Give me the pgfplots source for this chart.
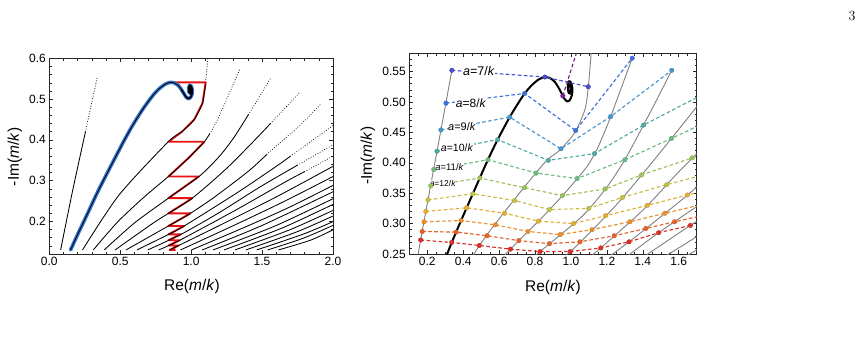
\documentclass[border=0pt]{standalone}
\usepackage{pgfplots}
\pgfplotsset{compat=1.18}
\usepackage{pgfplotstable}
\usepackage{fontspec}
\newfontfamily\arial{Liberation Sans}

% colours of the a = n/k families (a = 6 ... 17)
\definecolor{rcsix}{RGB}{122,31,143}
\definecolor{rcseven}{RGB}{75,79,208}
\definecolor{rceight}{RGB}{63,114,220}
\definecolor{rcnine}{RGB}{74,150,204}
\definecolor{rcten}{RGB}{82,170,160}
\definecolor{rceleven}{RGB}{110,186,128}
\definecolor{rctwelve}{RGB}{157,194,90}
\definecolor{rcthirteen}{RGB}{197,192,68}
\definecolor{rcfourteen}{RGB}{226,175,53}
\definecolor{rcfifteen}{RGB}{233,143,45}
\definecolor{rcsixteen}{RGB}{229,99,42}
\definecolor{rcseventeen}{RGB}{217,48,42}
\definecolor{trajblue}{RGB}{52,116,204}
\definecolor{stair}{RGB}{232,18,18}

% ---------- mode lines (lower part solid, upper part sparse) ----------
\pgfplotstableread{
x y
0.080 0.130
0.163 0.273
0.255 0.420
}\LZeroLo
\pgfplotstableread{
x y
0.255 0.420
0.337 0.552
}\LZeroHi
\pgfplotstableread{
x y
0.150 0.130
0.200 0.168
0.260 0.212
0.335 0.268
0.400 0.313
0.470 0.360
0.530 0.400
0.590 0.437
0.655 0.473
0.700 0.495
0.740 0.513
0.780 0.527
0.820 0.537
0.855 0.541
0.885 0.539
0.910 0.533
0.930 0.524
0.948 0.514
0.962 0.506
0.978 0.501
0.993 0.503
1.005 0.511
1.008 0.522
1.000 0.532
0.990 0.534
0.983 0.527
0.985 0.517
0.993 0.514
0.998 0.521
0.994 0.527
0.989 0.524
}\Traj
\pgfplotstableread{
x y
0.930 0.524
0.948 0.514
0.962 0.506
0.978 0.501
0.993 0.503
1.005 0.511
1.008 0.522
1.000 0.532
0.990 0.534
0.983 0.527
0.985 0.517
0.993 0.514
0.998 0.521
0.994 0.527
0.989 0.524
}\TrajLoop
\pgfplotstableread{
x y
0.234 0.130
0.490 0.264
0.835 0.394
0.935 0.420
1.022 0.450
1.080 0.490
1.100 0.535
}\LTwoLo
\pgfplotstableread{
x y
1.100 0.535
1.118 0.600
1.125 0.630
}\LTwoHi
\pgfplotstableread{
x y
0.310 0.130
0.480 0.198
0.663 0.258
0.846 0.312
0.980 0.355
1.090 0.394
1.131 0.415
}\LThreeLo
\pgfplotstableread{
x y
1.131 0.415
1.150 0.425
1.207 0.465
1.270 0.515
1.341 0.572
}\LThreeHi
\pgfplotstableread{
x y
0.387 0.130
0.600 0.196
0.828 0.254
1.062 0.312
1.200 0.360
1.300 0.405
1.404 0.462
}\LFourLo
\pgfplotstableread{
x y
1.404 0.462
1.480 0.505
1.561 0.552
}\LFourHi
\pgfplotstableread{
x y
0.464 0.130
0.750 0.200
1.000 0.255
1.250 0.330
1.450 0.400
1.559 0.440
}\LFiveLo
\pgfplotstableread{
x y
1.559 0.440
1.600 0.455
1.770 0.518
}\LFiveHi
\pgfplotstableread{
x y
0.541 0.130
0.846 0.190
0.987 0.218
1.158 0.258
1.400 0.322
1.533 0.364
}\LSixLo
\pgfplotstableread{
x y
1.533 0.364
1.600 0.385
1.780 0.440
1.920 0.490
}\LSixHi
\pgfplotstableread{
x y
0.618 0.130
0.846 0.169
0.957 0.190
1.323 0.270
1.600 0.335
1.700 0.360
}\LSevenLo
\pgfplotstableread{
x y
1.700 0.360
1.800 0.385
2.000 0.435
2.050 0.448
}\LSevenHi
\pgfplotstableread{
x y
0.694 0.130
0.933 0.169
1.200 0.222
1.488 0.285
1.750 0.338
}\LEightLo
\pgfplotstableread{
x y
1.750 0.338
2.000 0.388
2.050 0.398
}\LEightHi
\pgfplotstableread{
x y
0.771 0.130
0.910 0.152
1.300 0.225
1.665 0.297
1.800 0.322
}\LNineLo
\pgfplotstableread{
x y
1.800 0.322
2.000 0.360
2.050 0.370
}\LNineHi
\pgfplotstableread{
x y
0.848 0.130
1.200 0.190
1.600 0.260
2.000 0.335
2.050 0.345
}\LTen
\pgfplotstableread{
x y
0.925 0.130
1.300 0.190
1.650 0.248
2.000 0.310
2.050 0.320
}\LEleven
\pgfplotstableread{
x y
1.002 0.130
1.400 0.189
1.700 0.236
2.050 0.297
}\LTwelve
\pgfplotstableread{
x y
1.078 0.130
1.500 0.190
2.050 0.281
}\LThirteen
\pgfplotstableread{
x y
1.155 0.130
1.600 0.190
2.050 0.264
}\LFourteen
\pgfplotstableread{
x y
1.232 0.130
1.650 0.185
2.050 0.250
}\LFifteen
\pgfplotstableread{
x y
1.309 0.130
1.700 0.180
2.050 0.235
}\LSixteen
\pgfplotstableread{
x y
1.386 0.130
1.750 0.175
2.050 0.221
}\LSeventeen
\pgfplotstableread{
x y
1.462 0.130
1.800 0.170
2.050 0.207
}\LEighteen
\pgfplotstableread{
x y
1.540 0.130
1.800 0.160
2.050 0.198
}\LNineteen
\pgfplotstableread{
x y
1.616 0.130
1.850 0.155
2.050 0.188
}\LTwenty

% ---------- staircase between neighbouring mode lines ----------
\pgfplotstableread{
x y
0.855 0.541
1.102 0.541
1.100 0.535
1.080 0.490
1.022 0.450
0.935 0.420
0.840 0.3953
1.0925 0.3953
1.090 0.394
0.980 0.355
0.846 0.312
0.840 0.3102
1.0547 0.3102
0.840 0.2570
1.0067 0.2570
1.000 0.255
0.840 0.2198
0.9947 0.2198
0.987 0.218
0.846 0.190
0.840 0.1888
0.9507 0.1888
0.846 0.169
0.840 0.168
0.9268 0.168
0.840 0.1538
0.9196 0.1538
0.910 0.152
0.840 0.1409
0.912 0.1409
0.848 0.130
0.890 0.130
}\Stair

% ---------- points of constant a = n/k ----------
\pgfplotstableread{
x y
0.337 0.552
0.855 0.541
1.096 0.525
}\RowSeven
\pgfplotstableread{
x y
0.304 0.498
0.742 0.514
1.026 0.453
1.341 0.572
}\RowEight
\pgfplotstableread{
x y
0.276 0.454
0.659 0.475
0.944 0.423
1.221 0.476
1.561 0.552
}\RowNine
\pgfplotstableread{
x y
0.254 0.419
0.592 0.438
0.874 0.404
1.131 0.415
1.404 0.462
1.770 0.518
}\RowTen
\pgfplotstableread{
x y
0.236 0.389
0.538 0.405
0.806 0.383
1.034 0.374
1.300 0.405
1.559 0.440
1.920 0.490
}\RowEleven
\pgfplotstableread{
x y
0.219 0.362
0.493 0.375
0.742 0.359
0.952 0.346
1.191 0.357
1.393 0.380
1.675 0.408
2.050 0.448
}\RowTwelve
\pgfplotstableread{
x y
0.204 0.339
0.454 0.349
0.686 0.338
0.880 0.323
1.099 0.325
1.287 0.343
1.533 0.364
1.800 0.385
}\RowThirteen
\pgfplotstableread{
x y
0.192 0.320
0.419 0.326
0.631 0.317
0.819 0.304
1.014 0.300
1.193 0.313
1.425 0.330
1.648 0.347
1.875 0.363
}\RowFourteen
\pgfplotstableread{
x y
0.182 0.303
0.388 0.305
0.580 0.298
0.761 0.287
0.941 0.282
1.117 0.290
1.328 0.303
1.523 0.317
1.711 0.330
}\RowFifteen
\pgfplotstableread{
x y
0.172 0.287
0.361 0.286
0.533 0.280
0.710 0.272
0.880 0.267
1.050 0.270
1.241 0.280
1.417 0.292
1.577 0.303
1.762 0.315
}\RowSixteen
\pgfplotstableread{
x y
0.163 0.273
0.336 0.269
0.490 0.264
0.663 0.258
0.828 0.254
0.996 0.254
1.166 0.260
1.323 0.270
1.488 0.285
1.665 0.297
}\RowSeventeen
\pgfplotstableread{
x y
0.955 0.510
1.035 0.585
1.050 0.600
}\RowSix

\pgfplotsset{
  framestyle/.style={
    scale only axis, clip=true,
    axis line style={line width=0.6pt, black!85},
    tick style={black!85, line width=0.5pt},
    major tick length=4pt, minor tick length=2.2pt,
    tick align=inside, tick pos=both,
    ticklabel style={font=\arial\fontsize{12}{12}\selectfont},
    label style={font=\arial\fontsize{15.5}{15.5}\selectfont},
  },
  solidline/.style={black, line width=0.85pt, line join=round, smooth, tension=0.45},
  sparseline/.style={black, line width=1.05pt, line cap=round, dash pattern=on 0pt off 2.6pt, smooth, tension=0.45},
  greyline/.style={black!50, line width=0.9pt, line join=round, smooth, tension=0.45},
  arow/.style={#1, line width=1.15pt, dash pattern=on 3.6pt off 2.4pt,
    mark=*, mark size=2.3pt, mark options={solid, fill=#1, draw=#1!85!black, line width=0.3pt}},
}

\begin{document}
\begin{tikzpicture}
\path[use as bounding box] (0pt,0pt) rectangle (863pt,-350pt);
\node[font=\fontsize{14}{14}\selectfont] at (852pt,-16pt) {3};

% ===================== left panel =====================
\begin{axis}[framestyle,
  at={(49.3pt,-254pt)}, anchor=south west,
  width=283.7pt, height=195.7pt,
  xmin=0, xmax=2, ymin=0.12, ymax=0.6,
  xtick={0,0.5,1,1.5,2}, xticklabels={0.0,0.5,1.0,1.5,2.0},
  minor xtick={0.1,0.2,0.3,0.4,0.6,0.7,0.8,0.9,1.1,1.2,1.3,1.4,1.6,1.7,1.8,1.9},
  ytick={0.2,0.3,0.4,0.5,0.6}, yticklabels={0.2,0.3,0.4,0.5,0.6},
  minor ytick={0.14,0.16,0.18,0.22,0.24,0.26,0.28,0.32,0.34,0.36,0.38,0.42,0.44,0.46,0.48,0.52,0.54,0.56,0.58},
  xlabel={Re(\textit{m}/\textit{k})}, ylabel={-Im(\textit{m}/\textit{k})},
  xlabel style={at={(axis description cs:0.503,-0.167)}, anchor=center},
  ylabel style={at={(axis description cs:-0.121,0.496)}, anchor=center},
]
\addplot[stair, line width=1.9pt, line join=round] table {\Stair};
\addplot[solidline] table {\LZeroLo};
\addplot[sparseline] table {\LZeroHi};
\addplot[solidline] table {\LTwoLo};
\addplot[sparseline] table {\LTwoHi};
\addplot[solidline] table {\LThreeLo};
\addplot[sparseline] table {\LThreeHi};
\addplot[solidline] table {\LFourLo};
\addplot[sparseline] table {\LFourHi};
\addplot[solidline] table {\LFiveLo};
\addplot[sparseline] table {\LFiveHi};
\addplot[solidline] table {\LSixLo};
\addplot[sparseline] table {\LSixHi};
\addplot[solidline] table {\LSevenLo};
\addplot[sparseline] table {\LSevenHi};
\addplot[solidline] table {\LEightLo};
\addplot[sparseline] table {\LEightHi};
\addplot[solidline] table {\LNineLo};
\addplot[sparseline] table {\LNineHi};
\addplot[solidline] table {\LTen};
\addplot[solidline] table {\LEleven};
\addplot[solidline] table {\LTwelve};
\addplot[solidline] table {\LThirteen};
\addplot[solidline] table {\LFourteen};
\addplot[solidline] table {\LFifteen};
\addplot[solidline] table {\LSixteen};
\addplot[solidline] table {\LSeventeen};
\addplot[solidline] table {\LEighteen};
\addplot[solidline] table {\LNineteen};
\addplot[solidline] table {\LTwenty};
\addplot[trajblue, line width=3.6pt, line cap=round, line join=round, smooth] table {\Traj};
\addplot[black, line width=0.8pt, smooth] table {\Traj};
\addplot[black, line width=1.5pt, smooth] table {\TrajLoop};
\end{axis}

% ===================== right panel =====================
\begin{axis}[framestyle,
  at={(409.3pt,-254pt)}, anchor=south west,
  width=287.4pt, height=200.7pt,
  xmin=0.1, xmax=1.7, ymin=0.25, ymax=0.58,
  xtick={0.2,0.4,0.6,0.8,1.0,1.2,1.4,1.6},
  xticklabels={0.2,0.4,0.6,0.8,1.0,1.2,1.4,1.6},
  minor xtick={0.15,0.25,0.3,0.35,0.45,0.5,0.55,0.65,0.7,0.75,0.85,0.9,0.95,1.05,1.1,1.15,1.25,1.3,1.35,1.45,1.5,1.55,1.65},
  ytick={0.25,0.3,0.35,0.4,0.45,0.5,0.55},
  yticklabels={0.25,0.30,0.35,0.40,0.45,0.50,0.55},
  minor ytick={0.26,0.27,0.28,0.29,0.31,0.32,0.33,0.34,0.36,0.37,0.38,0.39,0.41,0.42,0.43,0.44,0.46,0.47,0.48,0.49,0.51,0.52,0.53,0.54,0.56,0.57},
  xlabel={Re(\textit{m}/\textit{k})}, ylabel={-Im(\textit{m}/\textit{k})},
  xlabel style={at={(axis description cs:0.5,-0.169)}, anchor=center},
  ylabel style={at={(axis description cs:-0.144,0.49)}, anchor=center},
]
\addplot[greyline] table {\LZeroLo};
\addplot[greyline] table {\LZeroHi};
\addplot[greyline] table {\LTwoLo};
\addplot[greyline] table {\LTwoHi};
\addplot[greyline] table {\LThreeLo};
\addplot[greyline] table {\LThreeHi};
\addplot[greyline] table {\LFourLo};
\addplot[greyline] table {\LFourHi};
\addplot[greyline] table {\LFiveLo};
\addplot[greyline] table {\LFiveHi};
\addplot[greyline] table {\LSixLo};
\addplot[greyline] table {\LSixHi};
\addplot[greyline] table {\LSevenLo};
\addplot[greyline] table {\LSevenHi};
\addplot[greyline] table {\LEightLo};
\addplot[greyline] table {\LEightHi};
\addplot[greyline] table {\LNineLo};
\addplot[greyline] table {\LNineHi};
\addplot[greyline] table {\LTen};
\addplot[greyline] table {\LEleven};
\addplot[black, line width=2pt, smooth] table {\Traj};
\addplot[arow=rcseventeen] table {\RowSeventeen};
\addplot[arow=rcsixteen] table {\RowSixteen};
\addplot[arow=rcfifteen] table {\RowFifteen};
\addplot[arow=rcfourteen] table {\RowFourteen};
\addplot[arow=rcthirteen] table {\RowThirteen};
\addplot[arow=rctwelve] table {\RowTwelve};
\addplot[arow=rceleven] table {\RowEleven};
\addplot[arow=rcten] table {\RowTen};
\addplot[arow=rcnine] table {\RowNine};
\addplot[arow=rceight] table {\RowEight};
\addplot[arow=rcseven] table {\RowSeven};
\addplot[rcsix, line width=1.15pt, dash pattern=on 3.6pt off 2.4pt] table {\RowSix};
\addplot[only marks, mark=*, mark size=2.3pt, mark options={fill=rcsix, draw=rcsix!85!black, line width=0.3pt}] coordinates {(0.955,0.510)};
\node[anchor=west, fill=white, inner sep=0.6pt, font=\arial\fontsize{12.5}{12.5}\selectfont] at (axis cs:0.395,0.551) {\textit{a}=7/\textit{k}};
\node[anchor=west, fill=white, inner sep=0.6pt, font=\arial\fontsize{12}{12}\selectfont] at (axis cs:0.355,0.498) {\textit{a}=8/\textit{k}};
\node[anchor=west, fill=white, inner sep=0.6pt, font=\arial\fontsize{11}{11}\selectfont] at (axis cs:0.312,0.459) {\textit{a}=9/\textit{k}};
\node[anchor=west, fill=white, inner sep=0.6pt, font=\arial\fontsize{10.5}{10.5}\selectfont] at (axis cs:0.272,0.425) {\textit{a}=10/\textit{k}};
\node[anchor=west, fill=white, inner sep=0.5pt, font=\arial\fontsize{9.5}{9.5}\selectfont] at (axis cs:0.241,0.393) {\textit{a}=11/\textit{k}};
\node[anchor=west, fill=white, inner sep=0.5pt, font=\arial\fontsize{8.5}{8.5}\selectfont] at (axis cs:0.210,0.366) {\textit{a}=12/\textit{k}};
\end{axis}
\end{tikzpicture}
\end{document}
